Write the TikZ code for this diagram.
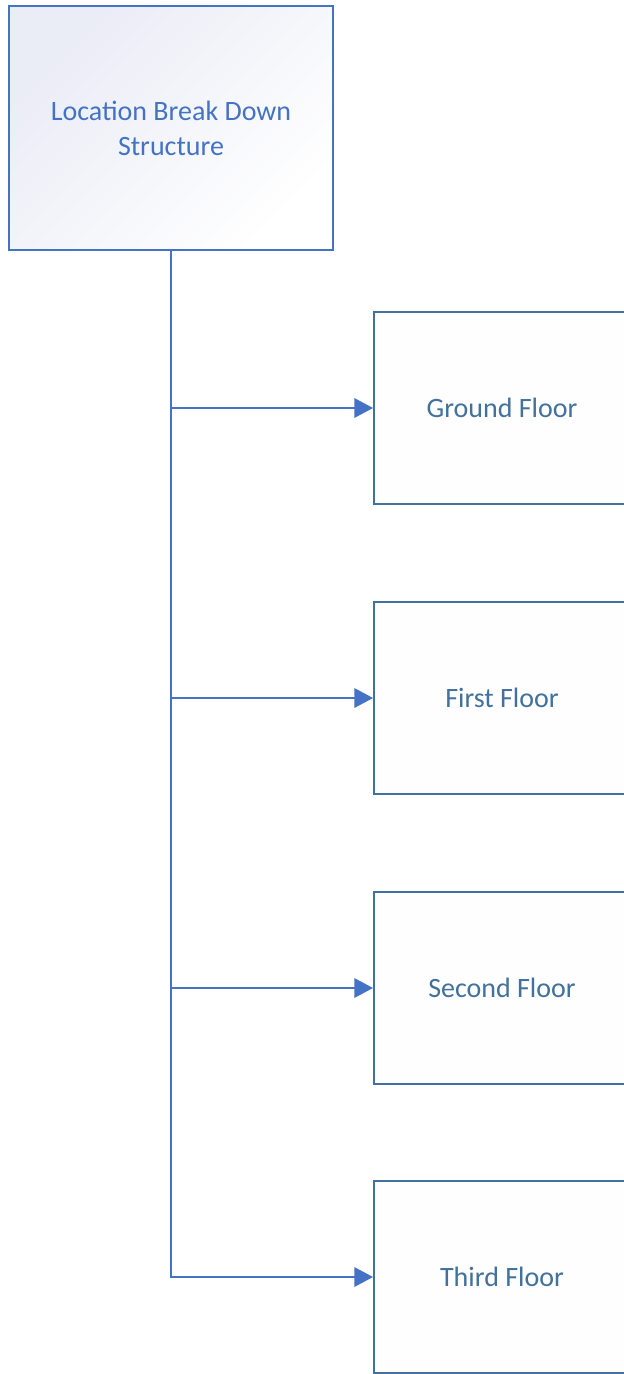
\documentclass[tikz,border=0pt]{standalone}
\usepackage{fontspec}
\setmainfont{Carlito}
\usetikzlibrary{arrows.meta, positioning}

\definecolor{lbsblue}{RGB}{68,114,196}
\definecolor{floorblue}{RGB}{65,113,156}
\definecolor{lbsfill}{RGB}{234,236,246}
\definecolor{floorfill}{RGB}{254,254,254}

\tikzset{
  topbox/.style={draw=lbsblue, line width=1.5pt, top color=lbsfill, bottom color=white,
                 shading angle=45, minimum width=243pt, minimum height=183pt,
                 align=center, text=lbsblue, font=\fontsize{21}{26.3}\selectfont},
  floorbox/.style={draw=floorblue, line width=1.4pt, fill=floorfill,
                   minimum width=192pt, minimum height=144pt,
                   text=floorblue, font=\fontsize{21}{26}\selectfont},
  link/.style={-{Triangle[length=14pt, width=14.5pt]}, lbsblue, line width=1.6pt}
}

\begin{document}
\begin{tikzpicture}[x=0.75pt, y=-0.75pt]
  \useasboundingbox (0,0) rectangle (624,1374);

  % Root
  \node[topbox] (lbs) at (171,128) {Location Break Down\\Structure};

  % Floors
  \node[floorbox] (ground) at (502,408) {Ground Floor};
  \node[floorbox] (first)  at (502,698) {First Floor};
  \node[floorbox] (second) at (502,988) {Second Floor};
  \node[floorbox] (third)  at (502,1277) {Third Floor};

  % Connectors
  \draw[link] (lbs.south) |- (third.west);
  \draw[link] (lbs.south |- ground.west) -- (ground.west);
  \draw[link] (lbs.south |- first.west) -- (first.west);
  \draw[link] (lbs.south |- second.west) -- (second.west);
\end{tikzpicture}
\end{document}
